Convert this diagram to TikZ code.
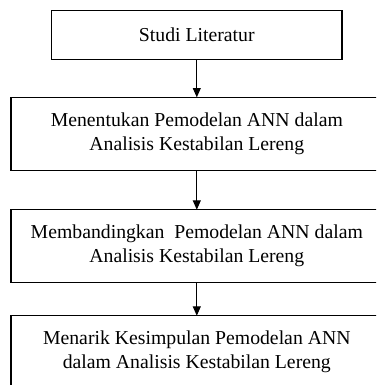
\documentclass[tikz,border=0pt]{standalone}
\usepackage{fontspec}
\setmainfont{Liberation Serif}
\usetikzlibrary{positioning}
\usetikzlibrary{arrows.meta}
\tikzset{stepbox/.style={rectangle,
                        align=center,
                        minimum width=278.7pt,
                        minimum height=54.75pt,
                        inner sep=0pt, outer sep=0pt,
                        font=\fontsize{14.8}{18}\selectfont
                        },
        topbox/.style={stepbox,
                        draw,
                        line width=1pt,
                        minimum width=217.6pt,
                        minimum height=36.5pt
        },
        frame/.style={line width=1pt},
        flow/.style={-{Triangle[width=6pt,length=7pt]}, line width=0.75pt},
}
\begin{document}
\begin{tikzpicture}
    \useasboundingbox (0,0) rectangle (282pt,-288.75pt);
    \clip (0,0) rectangle (282pt,-288.75pt);

    % FLOW OF THE STUDY
    \node[topbox] (literatur) at (147.6pt,-26.25pt) {Studi Literatur};

    \node[stepbox, below=28.5pt of literatur] (pemodelan)
        {Menentukan Pemodelan ANN dalam \\ Analisis Kestabilan Lereng};

    \node[stepbox, below=29.5pt of pemodelan] (perbandingan)
        {Membandingkan\ \ Pemodelan ANN dalam \\ Analisis Kestabilan Lereng};

    \node[stepbox, below=24.75pt of perbandingan] (kesimpulan)
        {Menarik Kesimpulan Pemodelan ANN \\ dalam Analisis Kestabilan Lereng};

    % frames run past the right edge of the page
    \foreach \n in {pemodelan, perbandingan, kesimpulan}
        \draw[frame] ([xshift=30pt]\n.north east) -- (\n.north west)
            -- (\n.south west) -- ([xshift=30pt]\n.south east);

    \draw[flow] (literatur) -- (pemodelan);
    \draw[flow] (pemodelan) -- (perbandingan);
    \draw[flow] (perbandingan) -- (kesimpulan);

\end{tikzpicture}
\end{document}
